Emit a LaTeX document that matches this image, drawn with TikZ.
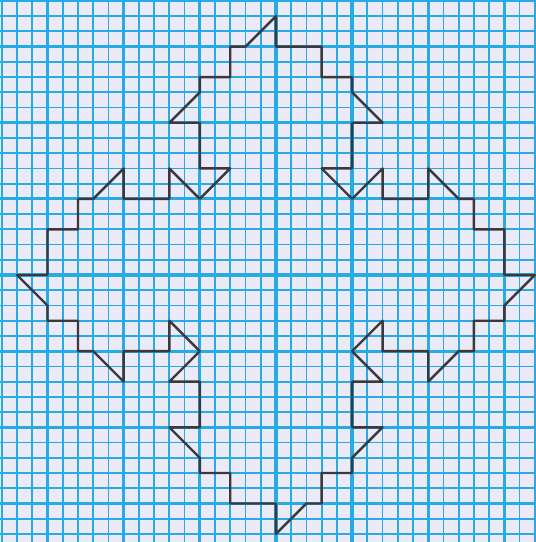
\documentclass[tikz,border=0pt]{standalone}
\usetikzlibrary{calc}
\definecolor{paper}{HTML}{ECEAF6}
\definecolor{gridcyan}{HTML}{27ABE4}
\definecolor{pencil}{HTML}{3A3A3E}
\tikzset{
  minorline/.style={draw=gridcyan, line width=1.3pt},
  majorline/.style={draw=gridcyan, line width=2.4pt},
  penline/.style={draw=pencil, line width=1.8pt, line join=round, line cap=round}
}
\begin{document}
\begin{tikzpicture}[x=0.4cm,y=0.4cm]
\useasboundingbox (-18.12,-17.53) rectangle (17.07,18.06);
\clip (-18.12,-17.53) rectangle (17.07,18.06);
\fill[paper] (-18.12,-17.53) rectangle (17.07,18.06);
\foreach \i in {-18,...,17} {\draw[minorline] (\i,-17.6) -- (\i,18.1);}
\foreach \j in {-17,...,18} {\draw[minorline] (-18.2,\j) -- (17.1,\j);}
\foreach \i in {-15,-10,...,15} {\draw[majorline] (\i,-17.6) -- (\i,18.1);}
\foreach \j in {-15,-10,...,15} {\draw[majorline] (-18.2,\j) -- (17.1,\j);}
\draw[penline] (0,17) -- (0,15) -- (3,15) -- (3,13) -- (5,13) -- (5,12) -- (7,10) -- (5,10) -- (5,7) -- (3,7) -- (5,5) -- (7,7) -- (7,5) -- (10,5) -- (10,7) -- (12,5) -- (13,5) -- (13,3) -- (15,3) -- (15,0) -- (17,0) -- (15,-2) -- (15,-3) -- (13,-3) -- (13,-5) -- (12,-5) -- (10,-7) -- (10,-5) -- (7,-5) -- (7,-3) -- (5,-5) -- (7,-7) -- (5,-7) -- (5,-10) -- (7,-10) -- (5,-12) -- (5,-13) -- (3,-13) -- (3,-15) -- (2,-15) -- (0,-17) -- (0,-15) -- (-3,-15) -- (-3,-13) -- (-5,-13) -- (-5,-12) -- (-7,-10) -- (-5,-10) -- (-5,-7) -- (-7,-7) -- (-5,-5) -- (-7,-3) -- (-7,-5) -- (-10,-5) -- (-10,-7) -- (-12,-5) -- (-13,-5) -- (-13,-3) -- (-15,-3) -- (-15,-2) -- (-17,0) -- (-15,0) -- (-15,3) -- (-13,3) -- (-13,5) -- (-12,5) -- (-10,7) -- (-10,5) -- (-7,5) -- (-7,7) -- (-5,5) -- (-3,7) -- (-5,7) -- (-5,10) -- (-7,10) -- (-5,12) -- (-5,13) -- (-3,13) -- (-3,15) -- (-2,15) -- cycle;
\end{tikzpicture}
\end{document}
